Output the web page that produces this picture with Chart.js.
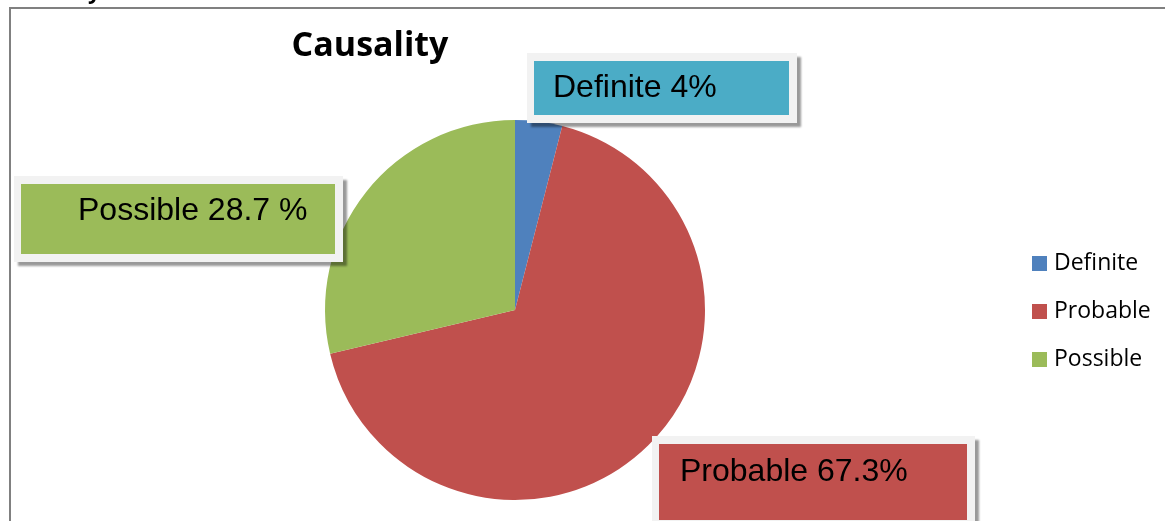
<!DOCTYPE html>
<html>
<head>
<meta charset="utf-8">
<script src="https://cdn.jsdelivr.net/npm/chart.js@4"></script>
<style>
	html, body { margin: 0; padding: 0; background: #fff; }
	#wrap { width: 1165px; height: 521px; position: relative; }
</style>
</head>
<body>
<div id="wrap"><canvas id="chart" width="1165" height="521"></canvas></div>
<script>
const categories = ['Definite', 'Probable', 'Possible'];
const values = [4, 67.3, 28.7];
const labelTexts = ['Definite 4%', 'Probable 67.3%', 'Possible 28.7 %'];
const colors = ['#4f81bd', '#c0504d', '#9bbb59'];
const labelFills = ['#4bacc6', '#c0504d', '#9bbb59'];

// label boxes: outer box x, y, w, h and text position
const boxes = [
	{x: 527, y: 53, w: 270, h: 70, tx: 553, ty: 88},
	{x: 652, y: 436, w: 323, h: 92, tx: 680, ty: 472},
	{x: 14, y: 176, w: 329, h: 86, tx: 78, ty: 211}
];

const decor = {
	id: 'decor',
	beforeDraw(chart) {
		const ctx = chart.ctx;
		ctx.save();
		// frame
		ctx.strokeStyle = '#808080';
		ctx.lineWidth = 2;
		ctx.beginPath();
		ctx.moveTo(10, 521);
		ctx.lineTo(10, 8);
		ctx.lineTo(1165, 8);
		ctx.stroke();
		// cut-off text above the frame
		ctx.fillStyle = '#000';
		ctx.font = 'bold 22px "Open Sans"';
		ctx.textBaseline = 'alphabetic';
		ctx.fillText('y', 88, -1);
		ctx.restore();
	},
	afterDraw(chart) {
		const ctx = chart.ctx;
		ctx.save();
		// title
		ctx.fillStyle = '#000';
		ctx.font = 'bold 34px "Open Sans"';
		ctx.textAlign = 'center';
		ctx.textBaseline = 'middle';
		ctx.fillText('Causality', 370, 46);

		// label boxes
		boxes.forEach((b, i) => {
			ctx.save();
			ctx.shadowColor = 'rgba(0,0,0,0.4)';
			ctx.shadowOffsetX = 4;
			ctx.shadowOffsetY = 4;
			ctx.shadowBlur = 2;
			ctx.fillStyle = '#f2f2f2';
			ctx.fillRect(b.x, b.y, b.w, b.h);
			ctx.restore();
			ctx.fillStyle = labelFills[i];
			ctx.fillRect(b.x + 7, b.y + 8, b.w - 15, b.h - 16);
			ctx.fillStyle = '#000';
			ctx.font = '32px "Liberation Sans"';
			ctx.textAlign = 'left';
			ctx.textBaseline = 'middle';
			ctx.fillText(labelTexts[i], b.tx, b.ty);
		});

		// legend
		ctx.font = '23px "Open Sans"';
		ctx.textBaseline = 'middle';
		categories.forEach((c, i) => {
			const y = 263 + i * 48;
			ctx.fillStyle = colors[i];
			ctx.fillRect(1032, y - 7, 15, 15);
			ctx.fillStyle = '#000';
			ctx.fillText(c, 1054, y);
		});
		ctx.restore();
	}
};

new Chart(document.getElementById('chart'), {
	type: 'pie',
	data: {
		labels: categories,
		datasets: [{
			data: values,
			backgroundColor: colors,
			borderWidth: 0
		}]
	},
	options: {
		responsive: false,
		animation: false,
		layout: { padding: { left: 325, right: 460, top: 120, bottom: 21 } },
		plugins: {
			legend: { display: false },
			title: { display: false },
			tooltip: { enabled: false }
		}
	},
	plugins: [decor]
});
</script>
</body>
</html>
